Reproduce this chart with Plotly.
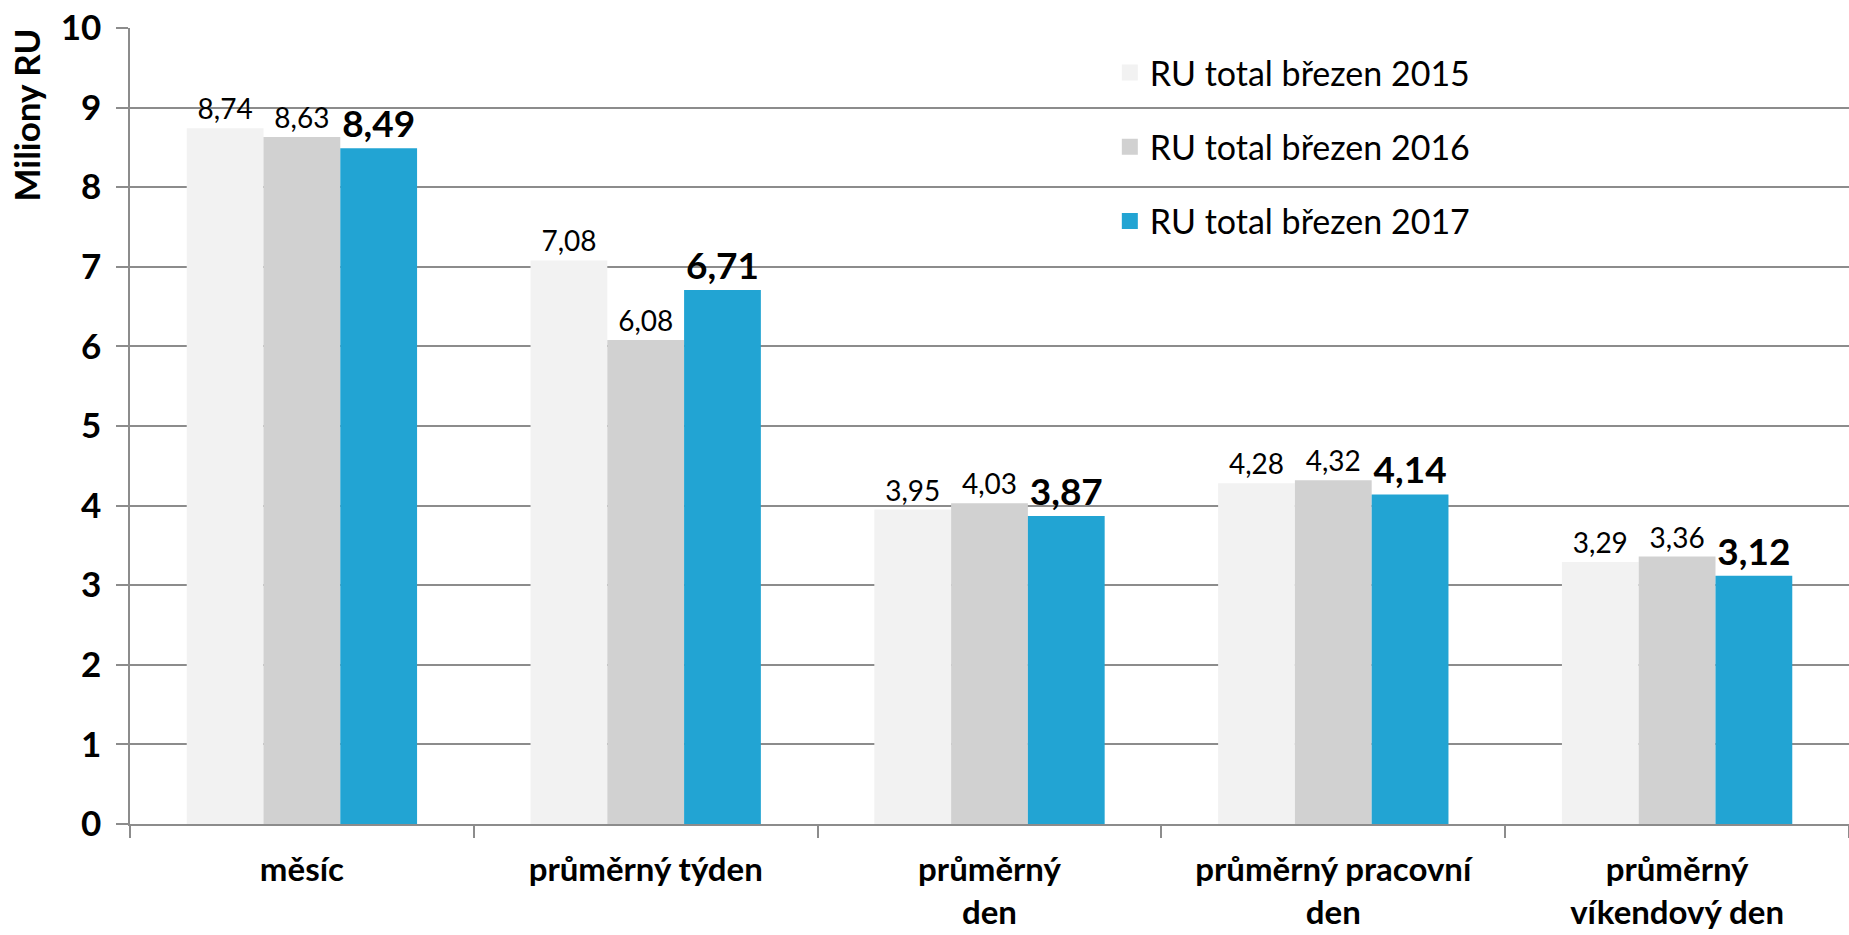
import plotly.graph_objects as go

categories = ["měsíc", "průměrný týden", "průměrný<br>den", "průměrný pracovní<br>den", "průměrný<br>víkendový den"]
ru_2015 = [8.74, 7.08, 3.95, 4.28, 3.29]
ru_2016 = [8.63, 6.08, 4.03, 4.32, 3.36]
ru_2017 = [8.49, 6.71, 3.87, 4.14, 3.12]
series_names = ["RU total březen 2015", "RU total březen 2016", "RU total březen 2017"]
y_ticks = list(range(0, 11))

FONT = "Lato"
colors = ["#F2F2F2", "#D1D1D1", "#22A4D3"]
grid = "#8C8C8C"

fig = go.Figure()

for name, vals, col, bold in zip(series_names, [ru_2015, ru_2016, ru_2017], colors, [False, False, True]):
    fig.add_trace(
        go.Bar(
            x=categories,
            y=vals,
            name=name,
            marker=dict(color=col, line=dict(width=0)),
            texttemplate="%{y:.2f}",
            textposition="outside",
            textangle=0,
            constraintext="none",
            cliponaxis=False,
            textfont=dict(family=FONT, size=37 if bold else 28, color="black",
                          weight="bold" if bold else "normal"),
            showlegend=False,
        )
    )
    # legenda s vetsimi ctverecky
    fig.add_trace(
        go.Scatter(
            x=[None],
            y=[None],
            mode="markers",
            name=name,
            legendgroup=name,
            marker=dict(symbol="square", size=16, color=col),
        )
    )

# popisek osy Y je nahore, ne uprostred
fig.add_annotation(
    text="<b>Miliony RU</b>",
    xref="paper",
    yref="paper",
    x=-0.0605,
    y=0.89,
    xanchor="center",
    yanchor="middle",
    textangle=-90,
    showarrow=False,
    font=dict(family=FONT, size=35, color="black"),
)

fig.update_layout(
    width=1849,
    height=935,
    margin=dict(l=130, r=0, t=28, b=111),
    paper_bgcolor="white",
    plot_bgcolor="white",
    separators=", ",
    barmode="group",
    bargap=0.33,
    bargroupgap=0,
    font=dict(family=FONT, color="black"),
    legend=dict(
        x=0.57,
        xanchor="left",
        y=0.98,
        yanchor="top",
        bgcolor="rgba(0,0,0,0)",
        font=dict(family=FONT, size=34, color="black"),
        tracegroupgap=27,
    ),
    xaxis=dict(
        automargin=False,
        showline=True,
        linecolor=grid,
        linewidth=1.5,
        ticks="outside",
        tickson="boundaries",
        ticklen=12,
        tickcolor=grid,
        tickwidth=1.5,
        ticklabelstandoff=16,
        tickfont=dict(family=FONT, size=33, color="black", weight="bold"),
        showgrid=False,
    ),
    yaxis=dict(
        automargin=False,
        range=[0, 10],
        tickvals=y_ticks,
        showgrid=True,
        gridcolor=grid,
        gridwidth=1.5,
        zeroline=False,
        showline=True,
        linecolor=grid,
        linewidth=1.5,
        ticks="outside",
        ticklen=12,
        tickcolor=grid,
        tickwidth=1.5,
        ticklabelstandoff=8,
        ticklabeloverflow="allow",
        tickfont=dict(family=FONT, size=35, color="black", weight="bold"),
    ),
)

# bez vychoziho okraje stranky (8 px), aby graf sedel na cele okno
fig.write_html(
    "out.html",
    config={"displayModeBar": False},
    post_script="document.body.style.margin='0';",
)
